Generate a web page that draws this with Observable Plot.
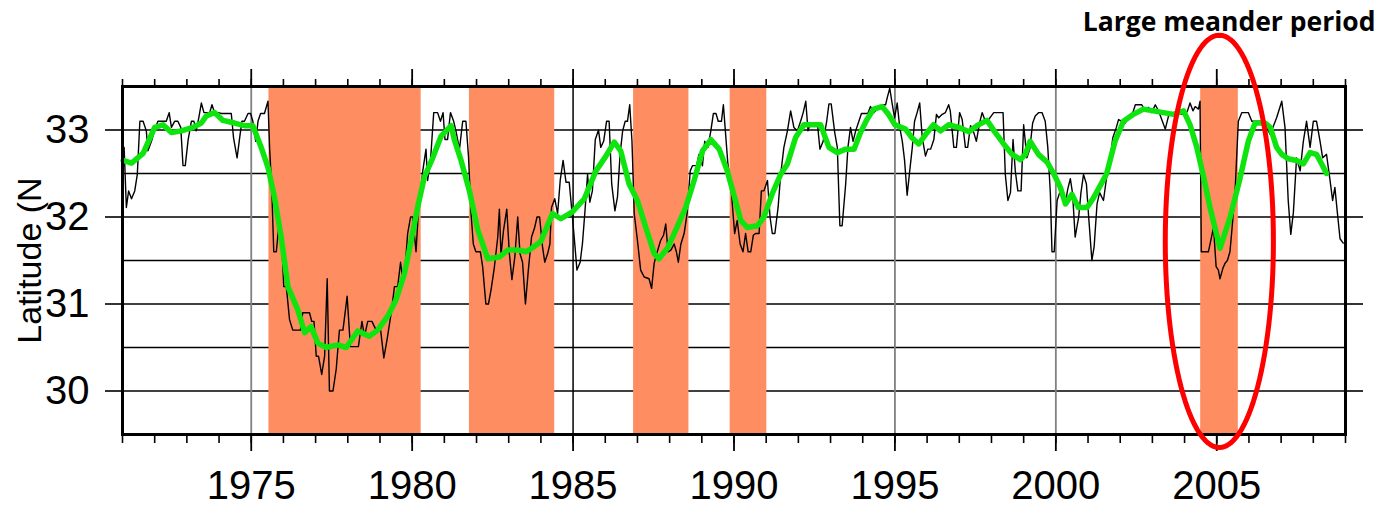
<!DOCTYPE html>
<html>
<head>
<meta charset="utf-8">
<script src="https://cdn.jsdelivr.net/npm/d3@7"></script>
<script src="https://cdn.jsdelivr.net/npm/@observablehq/plot@0.6"></script>
<style>
  html, body { margin: 0; padding: 0; background: #fff; }
  #chart { width: 1384px; height: 508px; overflow: hidden; }
</style>
</head>
<body>
<div id="chart"></div>
<script>
// ---- data ----
const title = "Large meander period";
const yLabel = "Latitude (N";
const latTicks = [30, 31, 32, 33];
const latGrid = [30, 30.5, 31, 31.5, 32, 32.5, 33];
const majorYears = [1975, 1980, 1985, 1990, 1995, 2000, 2005];
const minorYears = d3.range(1971, 2010);
const periodStart = [1975.55, 1981.78, 1986.88, 1989.88, 2004.50];
const periodEnd   = [1980.28, 1984.43, 1988.60, 1991.02, 2005.67];
const highlight = {cx: 2005.08, cy: 31.72, rx: 1.68, ry: 2.37};

// monthly latitude (thin black)
const blackSeries = [
[1971.05,32.80],[1971.12,32.11],[1971.19,32.30],[1971.28,32.21],[1971.38,32.30],[1971.46,32.49],
[1971.54,33.10],[1971.64,33.10],[1971.74,32.99],[1971.79,32.76],[1971.90,32.87],[1972.00,33.00],
[1972.10,33.10],[1972.26,33.10],[1972.36,33.10],[1972.45,33.20],[1972.52,33.03],[1972.62,33.10],
[1972.72,33.10],[1972.81,33.03],[1972.88,32.59],[1972.95,32.59],[1973.04,32.89],[1973.14,33.10],
[1973.22,33.10],[1973.29,32.99],[1973.37,33.14],[1973.45,33.31],[1973.53,33.20],[1973.64,33.20],
[1973.71,33.20],[1973.78,33.29],[1973.86,33.20],[1973.97,33.20],[1974.07,33.19],[1974.17,33.19],
[1974.28,33.19],[1974.38,33.19],[1974.45,32.91],[1974.56,32.68],[1974.64,32.91],[1974.71,33.10],
[1974.79,33.10],[1974.90,33.19],[1974.98,33.19],[1975.05,33.10],[1975.14,32.87],[1975.21,33.10],
[1975.29,33.19],[1975.41,33.19],[1975.52,33.33],[1975.57,32.80],[1975.64,32.30],[1975.70,31.60],
[1975.78,31.60],[1975.85,31.88],[1975.93,31.88],[1976.01,31.20],[1976.09,31.20],[1976.19,30.82],
[1976.29,30.70],[1976.40,30.70],[1976.53,30.70],[1976.60,30.90],[1976.71,30.90],[1976.81,30.90],
[1976.88,30.80],[1976.95,30.80],[1977.02,30.40],[1977.09,30.40],[1977.19,30.19],[1977.28,30.40],
[1977.36,31.29],[1977.43,30.00],[1977.54,30.00],[1977.64,30.25],[1977.74,30.70],[1977.85,30.70],
[1977.98,31.09],[1978.08,30.51],[1978.19,30.51],[1978.33,30.51],[1978.44,30.80],[1978.52,30.63],
[1978.62,30.80],[1978.75,30.80],[1978.88,30.70],[1979.02,30.70],[1979.12,30.38],[1979.22,30.59],
[1979.35,30.90],[1979.45,31.20],[1979.55,31.20],[1979.64,31.48],[1979.71,31.27],[1979.78,31.41],
[1979.86,31.81],[1979.95,32.00],[1980.02,32.00],[1980.12,31.60],[1980.20,32.11],[1980.33,32.53],
[1980.43,32.78],[1980.48,32.42],[1980.57,32.65],[1980.67,33.20],[1980.79,33.20],[1980.88,33.10],
[1980.96,33.20],[1981.02,32.89],[1981.10,32.89],[1981.19,33.20],[1981.29,33.10],[1981.36,32.99],
[1981.47,32.78],[1981.57,33.10],[1981.67,33.10],[1981.75,32.70],[1981.83,32.04],[1981.90,31.69],
[1981.98,31.60],[1982.12,31.60],[1982.19,31.43],[1982.29,31.00],[1982.37,31.00],[1982.45,31.16],
[1982.55,31.41],[1982.66,31.77],[1982.71,32.09],[1982.76,31.56],[1982.84,31.85],[1982.94,32.09],
[1983.02,31.58],[1983.10,31.28],[1983.19,31.54],[1983.28,32.00],[1983.35,31.58],[1983.43,31.48],
[1983.52,31.00],[1983.61,31.39],[1983.71,31.77],[1983.80,31.87],[1983.88,32.00],[1983.96,32.00],
[1984.05,31.66],[1984.12,31.48],[1984.21,31.58],[1984.28,31.69],[1984.33,32.11],[1984.43,32.21],
[1984.52,32.04],[1984.60,32.42],[1984.69,32.65],[1984.78,32.40],[1984.88,32.40],[1984.98,32.00],
[1985.06,31.66],[1985.12,31.39],[1985.22,31.48],[1985.29,31.69],[1985.37,32.07],[1985.45,32.49],
[1985.52,32.17],[1985.60,32.30],[1985.69,32.89],[1985.79,33.00],[1985.86,32.80],[1985.95,32.87],
[1986.04,33.10],[1986.12,33.10],[1986.20,32.38],[1986.30,32.07],[1986.38,32.23],[1986.46,32.72],
[1986.54,32.99],[1986.62,33.10],[1986.69,33.10],[1986.76,33.29],[1986.83,32.87],[1986.90,32.04],
[1987.00,31.73],[1987.10,31.39],[1987.21,31.31],[1987.36,31.29],[1987.44,31.18],[1987.52,31.47],
[1987.60,31.58],[1987.72,31.73],[1987.81,31.79],[1987.88,31.92],[1987.95,31.60],[1988.04,31.62],
[1988.14,31.69],[1988.21,31.60],[1988.27,31.48],[1988.35,31.69],[1988.45,31.81],[1988.55,32.06],
[1988.64,32.53],[1988.71,32.59],[1988.84,32.59],[1988.91,32.72],[1989.02,32.59],[1989.09,32.87],
[1989.19,32.80],[1989.28,32.99],[1989.36,33.19],[1989.44,33.19],[1989.51,33.10],[1989.61,33.10],
[1989.67,33.29],[1989.74,32.95],[1989.81,32.61],[1989.90,32.38],[1989.97,32.04],[1990.02,31.81],
[1990.10,31.96],[1990.19,31.69],[1990.28,31.60],[1990.36,31.81],[1990.44,31.60],[1990.52,31.60],
[1990.60,31.79],[1990.67,31.81],[1990.78,31.81],[1990.85,32.30],[1990.93,32.30],[1991.04,32.42],
[1991.12,32.00],[1991.19,31.81],[1991.27,31.81],[1991.37,32.11],[1991.45,32.49],[1991.55,32.80],
[1991.66,32.99],[1991.76,33.22],[1991.86,33.03],[1991.97,32.99],[1992.07,33.10],[1992.15,33.20],
[1992.23,33.33],[1992.30,32.99],[1992.38,33.08],[1992.48,33.08],[1992.59,33.08],[1992.67,32.78],
[1992.77,32.87],[1992.88,33.10],[1992.95,33.30],[1993.02,33.30],[1993.13,32.97],[1993.21,32.80],
[1993.29,31.90],[1993.36,31.90],[1993.47,32.38],[1993.54,32.80],[1993.62,33.03],[1993.70,32.87],
[1993.78,32.99],[1993.88,33.10],[1993.96,33.19],[1994.07,33.19],[1994.16,33.19],[1994.24,33.27],
[1994.35,33.20],[1994.45,33.24],[1994.53,33.24],[1994.60,33.29],[1994.71,33.29],[1994.76,33.37],
[1994.84,33.48],[1994.92,33.29],[1994.99,33.14],[1995.07,33.31],[1995.15,33.03],[1995.23,32.87],
[1995.30,32.65],[1995.38,32.25],[1995.46,32.53],[1995.54,32.80],[1995.61,33.10],[1995.69,33.20],
[1995.77,33.31],[1995.85,32.91],[1995.95,32.70],[1996.02,32.78],[1996.11,32.78],[1996.21,32.89],
[1996.29,33.18],[1996.36,33.14],[1996.47,33.18],[1996.57,33.20],[1996.67,33.29],[1996.72,33.22],
[1996.83,32.80],[1996.91,32.80],[1997.01,33.20],[1997.09,33.12],[1997.19,32.80],[1997.26,32.80],
[1997.35,33.05],[1997.45,32.97],[1997.53,32.87],[1997.63,33.08],[1997.71,33.20],[1997.79,33.12],
[1997.86,33.08],[1997.95,33.14],[1998.07,33.20],[1998.22,33.20],[1998.36,33.20],[1998.43,32.49],
[1998.51,32.19],[1998.59,32.28],[1998.67,32.89],[1998.74,32.53],[1998.82,32.30],[1998.92,32.30],
[1999.00,33.06],[1999.10,32.68],[1999.19,32.78],[1999.28,33.08],[1999.36,33.16],[1999.47,33.20],
[1999.57,33.20],[1999.67,33.10],[1999.75,32.80],[1999.83,32.27],[1999.88,31.60],[1999.95,31.60],
[2000.04,32.19],[2000.12,32.28],[2000.21,32.28],[2000.29,32.15],[2000.37,32.32],[2000.45,32.44],
[2000.52,32.27],[2000.60,31.77],[2000.71,32.00],[2000.78,32.28],[2000.86,32.49],[2000.95,32.38],
[2001.02,32.00],[2001.12,31.50],[2001.19,31.66],[2001.28,32.15],[2001.36,32.28],[2001.48,32.19],
[2001.59,32.49],[2001.69,32.68],[2001.77,32.91],[2001.88,33.03],[2001.95,33.12],[2002.05,33.10],
[2002.16,33.08],[2002.26,33.16],[2002.36,33.16],[2002.47,33.29],[2002.57,33.29],[2002.67,33.29],
[2002.78,33.22],[2002.88,33.26],[2002.98,33.20],[2003.09,33.29],[2003.19,33.22],[2003.29,33.12],
[2003.40,33.01],[2003.50,33.16],[2003.60,33.20],[2003.71,33.18],[2003.81,33.20],[2003.91,33.18],
[2004.02,33.18],[2004.09,33.22],[2004.17,33.31],[2004.26,33.22],[2004.33,33.27],[2004.43,33.24],
[2004.48,33.33],[2004.52,31.60],[2004.59,31.60],[2004.74,31.60],[2004.90,31.88],[2004.98,31.43],
[2005.05,31.39],[2005.10,31.29],[2005.19,31.41],[2005.26,31.47],[2005.33,31.50],[2005.41,31.60],
[2005.47,31.85],[2005.57,32.30],[2005.67,33.10],[2005.78,33.20],[2005.88,33.20],[2005.98,33.20],
[2006.09,33.10],[2006.24,33.10],[2006.40,33.10],[2006.45,33.10],[2006.66,32.95],[2006.86,33.14],
[2007.02,33.33],[2007.12,33.03],[2007.22,32.19],[2007.30,31.80],[2007.38,32.05],[2007.48,32.68],
[2007.59,32.53],[2007.69,32.87],[2007.79,33.10],[2007.90,32.80],[2008.00,33.10],[2008.10,33.10],
[2008.21,32.87],[2008.29,32.68],[2008.41,32.72],[2008.52,32.42],[2008.60,32.19],[2008.67,32.34],
[2008.75,32.04],[2008.83,31.75],[2008.93,31.70]
];

// smoothed latitude (thick green)
const greenSeries = [
[1971.02,32.65],[1971.28,32.62],[1971.64,32.73],[1972.00,33.03],[1972.26,33.06],[1972.52,32.97],
[1972.83,32.99],[1973.19,33.03],[1973.45,33.08],[1973.60,33.16],[1973.86,33.20],[1974.12,33.11],
[1974.48,33.08],[1974.79,33.05],[1975.05,33.05],[1975.31,32.80],[1975.52,32.57],[1975.72,32.23],
[1975.93,31.77],[1976.14,31.20],[1976.45,30.93],[1976.66,30.67],[1976.86,30.74],[1977.07,30.55],
[1977.33,30.50],[1977.69,30.53],[1977.95,30.50],[1978.31,30.69],[1978.67,30.63],[1978.93,30.70],
[1979.24,30.86],[1979.50,31.05],[1979.76,31.35],[1979.97,31.73],[1980.17,32.11],[1980.38,32.46],
[1980.64,32.68],[1980.90,32.93],[1981.21,33.05],[1981.31,32.89],[1981.52,32.65],[1981.78,32.30],
[1982.04,31.85],[1982.35,31.52],[1982.71,31.54],[1982.97,31.62],[1983.28,31.62],[1983.54,31.60],
[1983.79,31.66],[1984.00,31.72],[1984.36,32.04],[1984.62,31.98],[1984.98,32.06],[1985.35,32.21],
[1985.71,32.53],[1986.02,32.70],[1986.28,32.86],[1986.48,32.76],[1986.74,32.38],[1987.00,32.19],
[1987.26,31.88],[1987.52,31.58],[1987.67,31.52],[1987.93,31.64],[1988.19,31.85],[1988.50,32.11],
[1988.76,32.42],[1989.02,32.76],[1989.28,32.89],[1989.54,32.78],[1989.79,32.53],[1990.00,32.25],
[1990.21,31.96],[1990.41,31.88],[1990.73,31.90],[1990.93,32.00],[1991.19,32.27],[1991.45,32.49],
[1991.66,32.61],[1991.91,32.91],[1992.17,33.06],[1992.43,33.06],[1992.69,33.06],[1992.95,32.80],
[1993.21,32.74],[1993.47,32.78],[1993.73,32.78],[1993.93,32.97],[1994.13,33.12],[1994.34,33.24],
[1994.60,33.27],[1994.80,33.18],[1995.00,33.06],[1995.33,33.01],[1995.53,32.91],[1995.74,32.84],
[1996.00,32.97],[1996.20,33.06],[1996.42,32.99],[1996.67,33.06],[1996.98,33.03],[1997.30,32.98],
[1997.55,33.05],[1997.86,33.11],[1998.12,32.97],[1998.38,32.84],[1998.64,32.72],[1998.90,32.66],
[1999.05,32.72],[1999.20,32.87],[1999.46,32.72],[1999.73,32.63],[1999.93,32.50],[2000.14,32.34],
[2000.30,32.15],[2000.50,32.26],[2000.70,32.11],[2000.97,32.11],[2001.17,32.22],[2001.38,32.36],
[2001.58,32.50],[2001.84,32.87],[2002.10,33.10],[2002.41,33.18],[2002.72,33.24],[2003.03,33.22],
[2003.34,33.20],[2003.66,33.18],[2003.97,33.22],[2004.17,33.06],[2004.38,32.80],[2004.59,32.46],
[2004.79,32.11],[2005.10,31.64],[2005.41,31.99],[2005.72,32.44],[2005.98,32.87],[2006.19,33.08],
[2006.50,33.08],[2006.66,33.03],[2006.86,32.80],[2007.02,32.72],[2007.22,32.67],[2007.48,32.65],
[2007.69,32.61],[2007.90,32.74],[2008.10,32.72],[2008.26,32.61],[2008.41,32.50]
];

// ---- build ----
const periods = periodStart.map((s, i) => ({start: s, end: periodEnd[i]}));
const darkGridYears = [1985, 1990];
const grayGridYears = majorYears.filter(y => !darkGridYears.includes(y));
const ellipsePts = d3.range(0, 361, 3).map(a => {
  const t = a * Math.PI / 180;
  return [highlight.cx + highlight.rx * Math.cos(t), highlight.cy + highlight.ry * Math.sin(t)];
});
const font = "'Liberation Sans', Arial, Helvetica, sans-serif";

const chart = Plot.plot({
  width: 1384,
  height: 508,
  marginLeft: 122,
  marginRight: 39,
  marginTop: 86,
  marginBottom: 74,
  style: {fontFamily: font, background: "white", overflow: "visible"},
  x: {domain: [1971, 2009], axis: null},
  y: {domain: [29.5, 33.5], axis: null},
  marks: [
    Plot.ruleY(latGrid, {stroke: "#000", strokeWidth: 1.3}),
    Plot.ruleX(grayGridYears, {stroke: "#808080", strokeWidth: 1.8}),
    Plot.ruleX(darkGridYears, {stroke: "#000", strokeWidth: 1.5}),
    Plot.rect(periods, {x1: "start", x2: "end", fill: "#fe8d62"}),
    Plot.line(blackSeries, {x: d => d[0], y: d => d[1], stroke: "#000", strokeWidth: 1.4}),
    Plot.line(greenSeries, {x: d => d[0], y: d => d[1], stroke: "#0ee40e", strokeWidth: 5.5, strokeLinejoin: "round", strokeLinecap: "round"}),
    Plot.frame({stroke: "#000", strokeWidth: 3}),
    // bottom axis
    Plot.axisX({anchor: "bottom", ticks: minorYears, tickSize: 9, tickFormat: () => "", strokeWidth: 1.6, label: null}),
    Plot.axisX({anchor: "bottom", ticks: majorYears, tickSize: 17, tickPadding: 19, tickFormat: d => String(d), fontSize: 40, strokeWidth: 1.8, label: null, fill: "#000"}),
    // top axis (ticks only)
    Plot.axisX({anchor: "top", ticks: minorYears, tickSize: 8, tickFormat: () => "", strokeWidth: 1.6, label: null}),
    Plot.axisX({anchor: "top", ticks: majorYears, tickSize: 18, tickFormat: () => "", strokeWidth: 1.8, label: null}),
    // left / right axes
    Plot.axisY({anchor: "left", ticks: latTicks, tickSize: 17, tickPadding: 16, tickFormat: d => String(d), fontSize: 40, strokeWidth: 1.6, label: null, fill: "#000"}),
    Plot.axisY({anchor: "right", ticks: latTicks, tickSize: 17, tickFormat: () => "", strokeWidth: 1.6, label: null}),
    // highlight ellipse
    Plot.line(ellipsePts, {x: d => d[0], y: d => d[1], stroke: "#ff0000", strokeWidth: 5}),
    // y label
    Plot.text([yLabel], {frameAnchor: "left", rotate: -90, dx: -82, lineAnchor: "bottom", textAnchor: "middle", fontSize: 34, fill: "#000"}),
    // annotation title
    Plot.text([title], {frameAnchor: "top-right", dx: 30, dy: -64, textAnchor: "end", lineAnchor: "middle", fontSize: 26.5, fontWeight: "bold", fontFamily: "'Open Sans', sans-serif", fill: "#000"})
  ]
});
document.getElementById("chart").appendChild(chart);
</script>
</body>
</html>
